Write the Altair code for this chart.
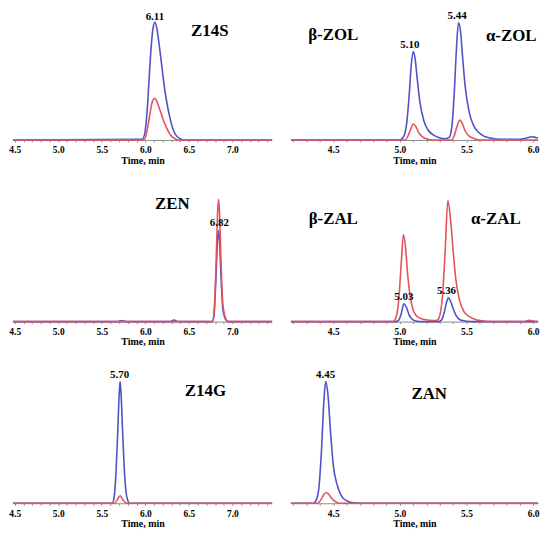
import altair as alt
import pandas as pd

FONT = "Liberation Serif"
BLUE = "#5252c8"
RED = "#e4535b"

LEFT_DOMAIN = [4.48, 7.455]
RIGHT_DOMAIN = [4.182, 6.037]
LEFT_TICKS = [round(4.5 + 0.1 * i, 1) for i in range(30)]
RIGHT_TICKS = [round(4.2 + 0.1 * i, 1) for i in range(19)]

# ---------------- Z14S ----------------
z14s_blue_t = [4.48, 5.96, 5.99, 6.01, 6.03, 6.05, 6.07, 6.09, 6.11, 6.13, 6.15, 6.18, 6.21, 6.24, 6.28, 6.32, 6.36, 6.40, 6.45, 7.455]
z14s_blue_v = [0, 0.5, 4, 14, 32, 55, 75, 88, 92, 88, 79, 63, 46, 32, 18, 8, 3, 1, 0, 0]
z14s_red_t = [4.48, 5.98, 6.01, 6.03, 6.05, 6.07, 6.09, 6.11, 6.13, 6.15, 6.18, 6.21, 6.24, 6.27, 6.30, 6.34, 6.38, 7.455]
z14s_red_v = [0, 0, 4, 11, 19, 27, 31.5, 32.5, 30.5, 27, 21, 15, 10, 6, 3, 1, 0, 0]
z14s_labels = ["6.11", "Z14S"]
z14s_lx = [6.11, 6.74]
z14s_ly = [96, 85]
z14s_kind = ["rt", "name"]

# ---------------- β-ZOL / α-ZOL ----------------
zol_blue_t = [4.182, 5.00, 5.03, 5.05, 5.07, 5.085, 5.10, 5.115, 5.13, 5.15, 5.18, 5.21, 5.25, 5.29, 5.34,
              5.37, 5.39, 5.41, 5.425, 5.44, 5.455, 5.47, 5.49, 5.52, 5.55, 5.59, 5.63, 5.68, 5.75,
              5.90, 5.95, 5.99, 6.02, 6.037]
zol_blue_v = [0, 0, 3, 12, 35, 58, 69, 63, 48, 30, 15, 8, 4, 2, 1,
              2, 10, 40, 72, 91.5, 85, 66, 42, 22, 12, 6, 3, 1.5, 0.5,
              0.5, 1.5, 2.5, 2, 1.5]
zol_red_t = [4.182, 5.04, 5.06, 5.08, 5.10, 5.12, 5.14, 5.17, 5.21, 5.24,
             5.39, 5.41, 5.43, 5.45, 5.47, 5.49, 5.52, 5.56, 5.60, 6.037]
zol_red_v = [0, 0, 3, 8, 12.5, 10.5, 6, 2.5, 0.5, 0,
             0, 4, 11, 15.5, 12.5, 7, 3, 1, 0, 0]
zol_labels = ["5.10", "5.44", "β-ZOL", "α-ZOL"]
zol_lx = [5.075, 5.43, 4.50, 5.836]
zol_ly = [74, 96.5, 82, 81]
zol_kind = ["rt", "rt", "name", "name"]

# ---------------- ZEN ----------------
zen_blue_t = [4.48, 5.68, 5.73, 5.78, 6.28, 6.33, 6.38, 6.77, 6.79, 6.81, 6.83, 6.84, 6.85, 6.87, 6.89, 6.92, 6.95, 7.455]
zen_blue_v = [0, 0, 0.8, 0, 0, 1.2, 0, 0, 6, 32, 64, 71, 66, 34, 10, 2, 0, 0]
zen_red_t = [4.48, 6.77, 6.79, 6.81, 6.83, 6.84, 6.85, 6.87, 6.89, 6.92, 6.95, 7.455]
zen_red_v = [0, 0, 8, 40, 85, 95.5, 88, 45, 14, 3, 0, 0]
zen_labels = ["6.82", "ZEN"]
zen_lx = [6.85, 6.31]
zen_ly = [77, 91.5]
zen_kind = ["rt", "name"]

# ---------------- β-ZAL / α-ZAL ----------------
zal_blue_t = [4.182, 4.97, 4.99, 5.01, 5.03, 5.05, 5.07, 5.09, 5.12, 5.16,
              5.29, 5.31, 5.33, 5.35, 5.365, 5.38, 5.40, 5.42, 5.45, 5.50, 5.55, 6.037]
zal_blue_v = [0, 0, 1, 6, 14, 11, 5, 2, 0.5, 0,
              0, 1, 6, 15, 18.6, 16, 10, 5, 1.5, 0.3, 0, 0]
zal_red_t = [4.182, 4.95, 4.97, 4.99, 5.01, 5.027, 5.045, 5.06, 5.08, 5.10, 5.13, 5.17, 5.22, 5.27,
             5.28, 5.30, 5.32, 5.34, 5.36, 5.38, 5.40, 5.42, 5.45, 5.48, 5.52, 5.57, 5.63, 5.70,
             5.93, 5.97, 6.01, 6.037]
zal_red_v = [0, 0, 3, 15, 45, 68, 55, 35, 18, 9, 4, 2, 1, 0.8,
             1, 5, 20, 55, 94.5, 80, 55, 33, 16, 8, 4, 1.5, 0.5, 0,
             0, 1, 0.3, 0]
zal_labels = ["5.03", "5.36", "β-ZAL", "α-ZAL"]
zal_lx = [5.03, 5.35, 4.50, 5.72]
zal_ly = [19.4, 24, 80, 80]
zal_kind = ["rt", "rt", "name", "name"]

# ---------------- Z14G ----------------
z14g_blue_t = [4.48, 5.62, 5.64, 5.66, 5.68, 5.70, 5.71, 5.72, 5.74, 5.76, 5.78, 5.80, 5.82, 7.455]
z14g_blue_v = [0, 0, 4, 20, 50, 85, 95, 87, 55, 25, 8, 2, 0, 0]
z14g_red_t = [4.48, 5.65, 5.68, 5.71, 5.74, 5.77, 5.79, 7.455]
z14g_red_v = [0, 0, 3, 5.8, 3, 0.5, 0, 0]
z14g_labels = ["5.70", "Z14G"]
z14g_lx = [5.705, 6.69]
z14g_ly = [100, 88]
z14g_kind = ["rt", "name"]

# ---------------- ZAN ----------------
zan_blue_t = [4.182, 4.35, 4.37, 4.39, 4.41, 4.43, 4.443, 4.46, 4.48, 4.50, 4.53, 4.56, 4.60, 4.64, 4.70, 6.037]
zan_blue_v = [0, 0, 2, 10, 38, 80, 95, 85, 55, 30, 14, 6, 2, 0.5, 0, 0]
zan_red_t = [4.182, 4.38, 4.41, 4.43, 4.45, 4.47, 4.49, 4.52, 4.55, 6.037]
zan_red_v = [0, 0, 3, 7, 8.2, 6.5, 3.5, 1, 0, 0]
zan_labels = ["4.45", "ZAN"]
zan_lx = [4.443, 5.22]
zan_ly = [100, 85.5]
zan_kind = ["rt", "name"]

LABEL_EXPR = "abs(datum.value * 2 - round(datum.value * 2)) < 0.01 ? format(datum.value, '.1f') : ''"


def panel(bt, bv, rt, rv, labels, lx, ly, kinds, domain, ticks, width):
    x = alt.X("t:Q", scale=alt.Scale(domain=domain, nice=False, zero=False),
              axis=alt.Axis(values=ticks, labelExpr=LABEL_EXPR, title="Time, min"))
    y = alt.Y("v:Q", scale=alt.Scale(domain=[0, 100], nice=False), axis=None)
    blue = alt.Chart(pd.DataFrame({"t": bt, "v": bv})).mark_line(
        interpolate="monotone", strokeWidth=1.6, color=BLUE).encode(x=x, y=y)
    red = alt.Chart(pd.DataFrame({"t": rt, "v": rv})).mark_line(
        interpolate="monotone", strokeWidth=1.6, color=RED).encode(x=x, y=y)
    tdf = pd.DataFrame({"t": lx, "v": ly, "label": labels, "kind": kinds})
    text = alt.Chart(tdf).mark_text(font=FONT, fontWeight="bold", baseline="middle",
                                    align="center", color="black").encode(
        x=x, y=y, text="label:N",
        size=alt.Size("kind:N", scale=alt.Scale(domain=["rt", "name"], range=[11, 17]), legend=None))
    return alt.layer(blue, red, text).properties(width=width, height=129)


LW, RW = 261, 249
charts = [
    panel(z14s_blue_t, z14s_blue_v, z14s_red_t, z14s_red_v, z14s_labels, z14s_lx, z14s_ly, z14s_kind, LEFT_DOMAIN, LEFT_TICKS, LW),
    panel(zol_blue_t, zol_blue_v, zol_red_t, zol_red_v, zol_labels, zol_lx, zol_ly, zol_kind, RIGHT_DOMAIN, RIGHT_TICKS, RW),
    panel(zen_blue_t, zen_blue_v, zen_red_t, zen_red_v, zen_labels, zen_lx, zen_ly, zen_kind, LEFT_DOMAIN, LEFT_TICKS, LW),
    panel(zal_blue_t, zal_blue_v, zal_red_t, zal_red_v, zal_labels, zal_lx, zal_ly, zal_kind, RIGHT_DOMAIN, RIGHT_TICKS, RW),
    panel(z14g_blue_t, z14g_blue_v, z14g_red_t, z14g_red_v, z14g_labels, z14g_lx, z14g_ly, z14g_kind, LEFT_DOMAIN, LEFT_TICKS, LW),
    panel(zan_blue_t, zan_blue_v, zan_red_t, zan_red_v, zan_labels, zan_lx, zan_ly, zan_kind, RIGHT_DOMAIN, RIGHT_TICKS, RW),
]

chart = alt.concat(*charts, columns=2, spacing={"row": 54, "column": 19}, bounds="flush").properties(
    padding=0
).configure_view(stroke=None).configure_axis(
    grid=False,
    domainColor="#8c8c8c",
    domainWidth=1,
    tickColor="#8c8c8c",
    tickSize=2,
    labelFont=FONT,
    labelFontWeight="bold",
    labelFontSize=9.5,
    labelColor="black",
    labelPadding=3,
    labelFlush=False,
    labelOverlap=False,
    titleFont=FONT,
    titleFontWeight="bold",
    titleFontSize=10,
    titleColor="black",
    titlePadding=1,
)

chart.save("out.html", embed_options={"renderer": "svg", "actions": False})
